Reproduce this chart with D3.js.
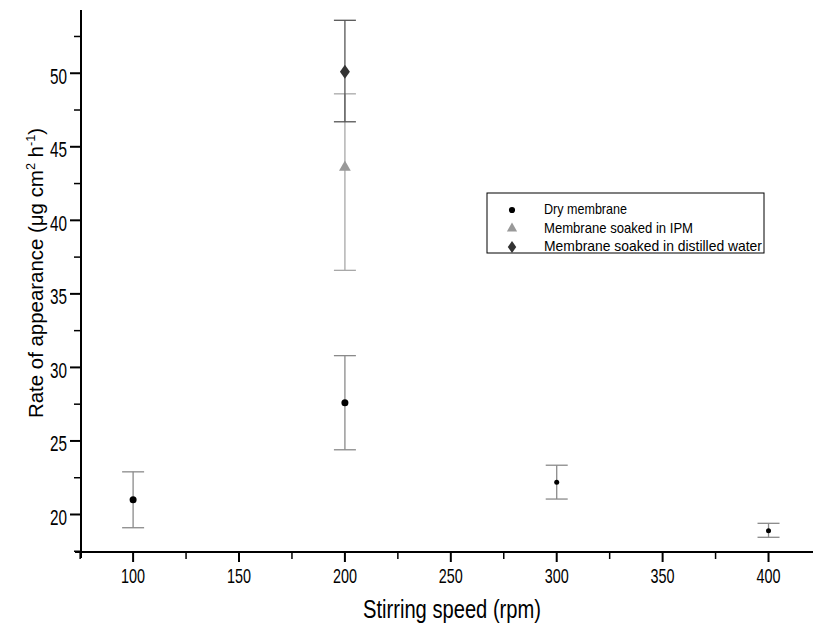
<!DOCTYPE html>
<html>
<head>
<meta charset="utf-8">
<script src="https://cdn.jsdelivr.net/npm/d3@7"></script>
<style>
  body { margin: 0; background: #fff; }
  text { font-family: "Liberation Sans", Arial, sans-serif; }
</style>
</head>
<body>
<svg width="813" height="625"></svg>
<script>
// stirring speed (rpm) and rate of appearance (ug cm-2 h-1)
const drySpeed = [100, 200, 300, 400];
const dryRate  = [21.0, 27.6, 22.2, 18.9];
const dryLow   = [19.1, 24.4, 21.05, 18.45];
const dryHigh  = [22.9, 30.8, 23.35, 19.4];

const ipmSpeed = [200];
const ipmRate  = [43.6];
const ipmLow   = [36.6];
const ipmHigh  = [48.6];

const waterSpeed = [200];
const waterRate  = [50.1];
const waterLow   = [46.7];
const waterHigh  = [53.6];

const xTicks = [100, 150, 200, 250, 300, 350, 400];
const yTicks = [20, 25, 30, 35, 40, 45, 50];
const legendLabels = ["Dry membrane", "Membrane soaked in IPM", "Membrane soaked in distilled water"];
const legendWidths = [83, 149, 218];

var svg = d3.select("svg");

var x = d3.scaleLinear().domain([75.4, 421]).range([81, 813]);
var y = d3.scaleLinear().domain([17.45, 54.3]).range([552, 10]);

// error bars
function errorBars(speed, low, high, color, cls) {
  var g = svg.append("g").attr("class", cls);
  speed.forEach(function(s, i) {
    g.append("line")
      .attr("x1", x(s)).attr("x2", x(s))
      .attr("y1", y(low[i])).attr("y2", y(high[i]))
      .attr("stroke", color).attr("stroke-width", 1.3);
    [low[i], high[i]].forEach(function(v) {
      g.append("line")
        .attr("x1", x(s) - 11).attr("x2", x(s) + 11)
        .attr("y1", y(v)).attr("y2", y(v))
        .attr("stroke", color).attr("stroke-width", 1.3);
    });
  });
}

errorBars(drySpeed, dryLow, dryHigh, "#8a8a8a", "err-dry");
errorBars(ipmSpeed, ipmLow, ipmHigh, "#a8a8a8", "err-ipm");
errorBars(waterSpeed, waterLow, waterHigh, "#555", "err-water");

// points
svg.append("g").selectAll("circle")
  .data(drySpeed)
  .enter().append("circle")
    .attr("cx", function(d) { return x(d); })
    .attr("cy", function(d, i) { return y(dryRate[i]); })
    .attr("r", function(d, i) { return i < 2 ? 3.5 : 2.5; })
    .attr("fill", "#000");

svg.append("g").selectAll("path")
  .data(ipmSpeed)
  .enter().append("path")
    .attr("d", d3.symbol().type(d3.symbolTriangle).size(60))
    .attr("transform", function(d, i) { return "translate(" + x(d) + "," + y(ipmRate[i]) + ")"; })
    .attr("fill", "#999");

svg.append("g").selectAll("path")
  .data(waterSpeed)
  .enter().append("path")
    .attr("d", d3.symbol().type(d3.symbolDiamond).size(55))
    .attr("transform", function(d, i) { return "translate(" + x(d) + "," + y(waterRate[i]) + ") scale(1.25,1)"; })
    .attr("fill", "#333");

// axes
var xMinor = d3.range(75, 421, 25).filter(function(v) { return v % 50 !== 0; });
var yMinor = d3.range(17.5, 54.3, 2.5).filter(function(v) { return v % 5 !== 0; });

var xAxis = svg.append("g").attr("transform", "translate(0,552)");
xAxis.append("line").attr("x1", 75).attr("x2", 813).attr("stroke", "#000").attr("stroke-width", 2);
xAxis.selectAll(".minor").data(xMinor).enter().append("line")
  .attr("x1", function(d) { return x(d); }).attr("x2", function(d) { return x(d); })
  .attr("y1", 0).attr("y2", 7).attr("stroke", "#000").attr("stroke-width", 1.5);
xAxis.selectAll(".major").data(xTicks).enter().append("line")
  .attr("x1", function(d) { return x(d); }).attr("x2", function(d) { return x(d); })
  .attr("y1", 0).attr("y2", 10).attr("stroke", "#000").attr("stroke-width", 2);
xAxis.selectAll("text").data(xTicks).enter().append("text")
  .attr("x", function(d) { return x(d) - 12; }).attr("y", 31)
  .attr("font-size", 21)
  .attr("textLength", 24).attr("lengthAdjust", "spacingAndGlyphs")
  .text(function(d) { return d; });

var yAxis = svg.append("g").attr("transform", "translate(81,0)");
yAxis.append("line").attr("y1", 10).attr("y2", 558).attr("stroke", "#000").attr("stroke-width", 2);
yAxis.selectAll(".minor").data(yMinor).enter().append("line")
  .attr("y1", function(d) { return y(d); }).attr("y2", function(d) { return y(d); })
  .attr("x1", 0).attr("x2", -7).attr("stroke", "#000").attr("stroke-width", 1.5);
yAxis.selectAll(".major").data(yTicks).enter().append("line")
  .attr("y1", function(d) { return y(d); }).attr("y2", function(d) { return y(d); })
  .attr("x1", 0).attr("x2", -11).attr("stroke", "#000").attr("stroke-width", 2);
yAxis.selectAll("text").data(yTicks).enter().append("text")
  .attr("x", -31).attr("y", function(d) { return y(d) + 10.5; })
  .attr("font-size", 22)
  .attr("textLength", 17).attr("lengthAdjust", "spacingAndGlyphs")
  .text(function(d) { return d; });

// axis titles
svg.append("text")
  .attr("x", 363).attr("y", 618)
  .attr("font-size", 25)
  .attr("textLength", 178).attr("lengthAdjust", "spacingAndGlyphs")
  .text("Stirring speed (rpm)");

var yTitle = svg.append("text")
  .attr("transform", "translate(43,273) rotate(-90)")
  .attr("text-anchor", "middle").attr("font-size", 21)
  .attr("textLength", 290).attr("lengthAdjust", "spacingAndGlyphs");
yTitle.append("tspan").text("Rate of appearance (\u03bcg cm");
yTitle.append("tspan").attr("dy", -8).attr("font-size", 13).text("2");
yTitle.append("tspan").attr("dy", 8).text(" h");
yTitle.append("tspan").attr("dy", -8).attr("font-size", 13).text("-1");
yTitle.append("tspan").attr("dy", 8).text(")");

// legend
var legend = svg.append("g").attr("transform", "translate(487,193)");
legend.append("rect").attr("width", 277).attr("height", 60)
  .attr("fill", "none").attr("stroke", "#000").attr("stroke-width", 1);
var symbols = [
  d3.symbol().type(d3.symbolCircle).size(30),
  d3.symbol().type(d3.symbolTriangle).size(45),
  d3.symbol().type(d3.symbolDiamond).size(40)
];
var symColors = ["#000", "#999", "#333"];
legendLabels.forEach(function(label, i) {
  var base = 21 + i * 18.5;
  legend.append("path").attr("d", symbols[i])
    .attr("transform", "translate(25," + (base - 4) + ")" + (i === 2 ? " scale(1.25,1)" : ""))
    .attr("fill", symColors[i]);
  legend.append("text").attr("x", 57).attr("y", base)
    .attr("font-size", 15)
    .attr("textLength", legendWidths[i]).attr("lengthAdjust", "spacingAndGlyphs")
    .text(label);
});
</script>
</body>
</html>
